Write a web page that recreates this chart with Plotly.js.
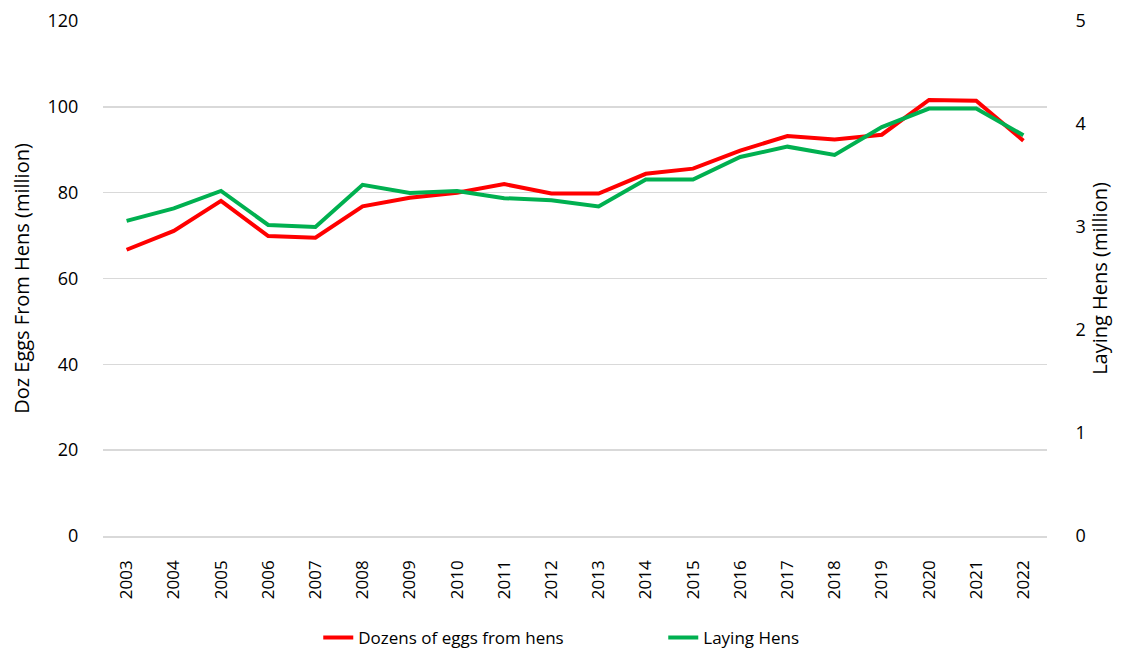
<!DOCTYPE html>
<html>
<head>
<meta charset="utf-8">
<script src="https://cdn.plot.ly/plotly-3.0.1.min.js"></script>
<style>html,body{margin:0;padding:0;background:#fff;}#chart{width:1123px;height:654px;}</style>
</head>
<body>
<div id="chart"></div>
<script>
const years = ["2003","2004","2005","2006","2007","2008","2009","2010","2011","2012","2013","2014","2015","2016","2017","2018","2019","2020","2021","2022"];
const dozensEggs = [66.7,71.1,78.1,69.9,69.5,76.8,78.8,80.0,82.0,79.8,79.8,84.4,85.6,89.8,93.2,92.4,93.5,101.6,101.4,92.1];
const layingHens = [3.06,3.18,3.35,3.02,3.00,3.41,3.33,3.35,3.28,3.26,3.20,3.46,3.46,3.68,3.78,3.70,3.97,4.15,4.15,3.89];
const leftTicks = [0,20,40,60,80,100,120];
const rightTicks = [0,1,2,3,4,5];

const font = "Open Sans, Liberation Sans, sans-serif";
const clear = "rgba(0,0,0,0)";
const traces = [
  {x: years, y: dozensEggs, type: "scatter", mode: "lines", name: "Dozens of eggs from hens",
   line: {color: "#ff0000", width: 4}, yaxis: "y"},
  {x: years, y: layingHens, type: "scatter", mode: "lines", name: "Laying Hens",
   line: {color: "#00b050", width: 4}, yaxis: "y2"}
];
const layout = {
  width: 1123, height: 654,
  margin: {l: 103, r: 76, t: 21, b: 118, autoexpand: false},
  paper_bgcolor: "#fff", plot_bgcolor: "#fff",
  font: {family: font, color: "#000", size: 18},
  showlegend: true,
  legend: {orientation: "h", xref: "container", yref: "container", x: 0.2834, xanchor: "left",
           y: 1 - 638/654, yanchor: "middle", entrywidth: 300,
           font: {size: 17, family: font}},
  xaxis: {type: "category", range: [-0.5, 19.5], tickangle: -90, showgrid: false, automargin: false,
          showline: true, linecolor: "#d9d9d9", linewidth: 1.5, ticks: "", ticklabelstandoff: 16,
          tickfont: {size: 17}, fixedrange: true},
  yaxis: {range: [0, 120], tickvals: leftTicks, showgrid: true, gridcolor: "#d9d9d9", gridwidth: 1.5,
          zeroline: false, showline: false, ticks: "outside", ticklen: 20, tickcolor: clear, automargin: false,
          tickfont: {size: 18},
          title: {text: "Doz Eggs From Hens (million)", font: {size: 20}, standoff: 12}},
  yaxis2: {range: [0, 5], tickvals: rightTicks, overlaying: "y", side: "right", showgrid: false,
           zeroline: false, showline: false, ticks: "outside", ticklen: 24, tickcolor: clear, automargin: false,
           tickfont: {size: 18},
           title: {text: "Laying Hens (million)", font: {size: 20}, standoff: 0}}
};
Plotly.newPlot("chart", traces, layout, {displayModeBar: false, staticPlot: true});
</script>
</body>
</html>
